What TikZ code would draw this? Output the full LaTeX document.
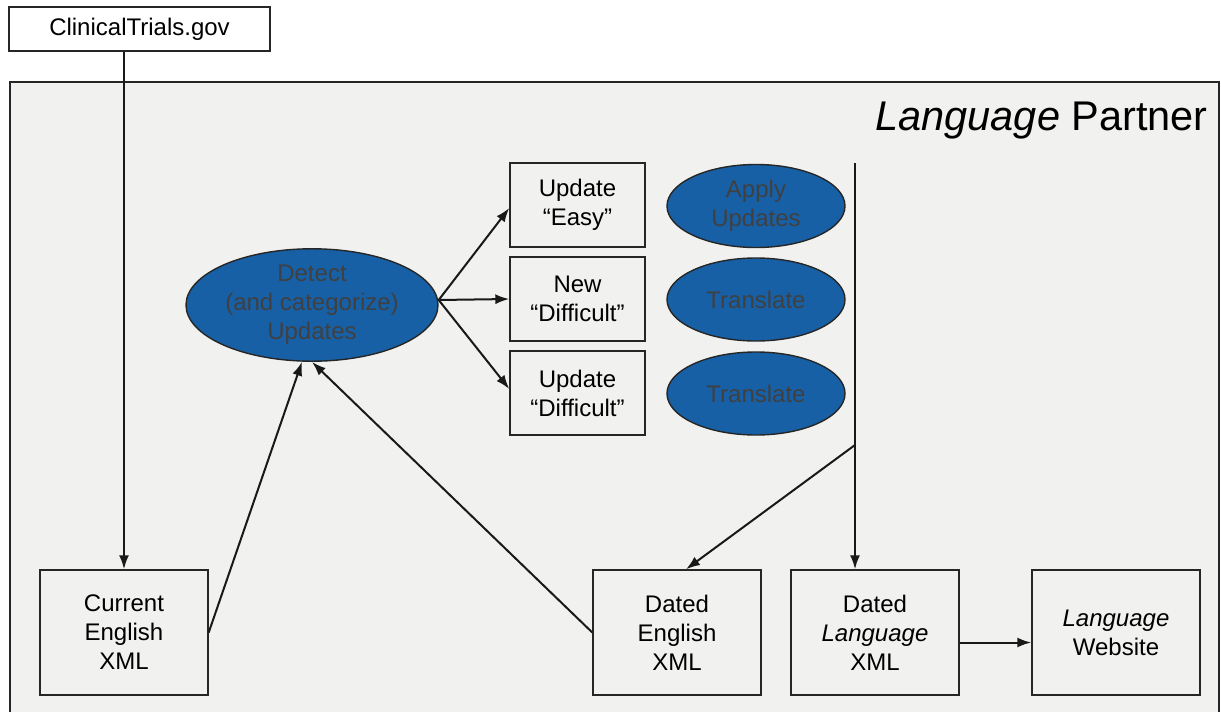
\documentclass[tikz,border=0pt]{standalone}
\usepackage{fontspec}
\setmainfont{Liberation Sans}
\usetikzlibrary{arrows.meta,shapes.geometric}
\definecolor{ellblue}{HTML}{1760A6}
\definecolor{bgdots}{HTML}{F1F1EF}
\begin{document}
\begin{tikzpicture}[x=1pt,y=-1pt,
  box/.style={draw=black!85, line width=1.4pt, minimum width=168pt, minimum height=125pt,
    align=center, inner sep=0pt, font=\fontsize{24}{29}\selectfont},
  ell/.style={ellipse, draw=black!85, line width=1.4pt, fill=ellblue, minimum width=178pt,
    minimum height=83pt, inner sep=0pt, align=center, text=black!75,
    font=\fontsize{24}{29}\selectfont},
  conn/.style={line width=2pt, draw=black!90},
  arr/.style={conn, -{Latex[length=14pt,width=10pt]}}]
\useasboundingbox (0,0) rectangle (1221,712);
% frame
\fill[bgdots] (10,82) rectangle (1219,712);
\draw[line width=1.5pt, black!85] (10,712) -- (10,82) -- (1219,82) -- (1219,712);
% title
\node[anchor=base east, inner sep=0pt, font=\fontsize{41.5}{41.5}\selectfont] (title) at (1208,130) {\textit{Language} Partner};
% nodes
\node[box, minimum width=261pt, minimum height=44pt] (ct) at (139.5,29) {ClinicalTrials.gov};
\node[box] (cur) at (124,632.5) {Current\\English\\XML};
\node[ell, minimum width=252pt, minimum height=108pt] (det) at (312,305) {Detect\\(and categorize)\\Updates};
\node[box, minimum width=135pt, minimum height=84pt] (ue) at (577.5,205) {Update\\“Easy”};
\node[box, minimum width=135pt, minimum height=84pt] (nd) at (577.5,299) {New\\“Difficult”};
\node[box, minimum width=135pt, minimum height=84pt] (ud) at (577.5,393) {Update\\“Difficult”};
\node[ell] (ap) at (756,206) {Apply\\Updates};
\node[ell] (t1) at (756,299.5) {Translate};
\node[ell] (t2) at (756,393.5) {Translate};
\node[box] (de) at (677,632.5) {Dated\\English\\XML};
\node[box] (dl) at (875,632.5) {Dated\\\textit{Language}\\XML};
\node[box] (lw) at (1116,632.5) {\textit{Language}\\Website};
% connectors
\coordinate (dout) at ([yshift=5pt]det.east);
\draw[arr] (cur.north |- ct.south) -- (cur.north);
\draw[arr] (cur.east) -- (det.260);
\draw[arr] (de.west) -- (det.south);
\draw[arr] (dout) -- ([yshift=-3pt]ue.west);
\draw[arr] (dout) -- (nd.west);
\draw[arr] (dout) -- ([yshift=4pt]ud.west);
\coordinate (vt) at (855,163);
\coordinate (vb) at (855,445);
\draw[arr] (vt) -- (vt |- dl.north);
\draw[arr] (vb) -- ([xshift=9pt]de.north);
\draw[arr] ([yshift=-10pt]dl.east) -- ([yshift=-10pt]lw.west);
\end{tikzpicture}
\end{document}
